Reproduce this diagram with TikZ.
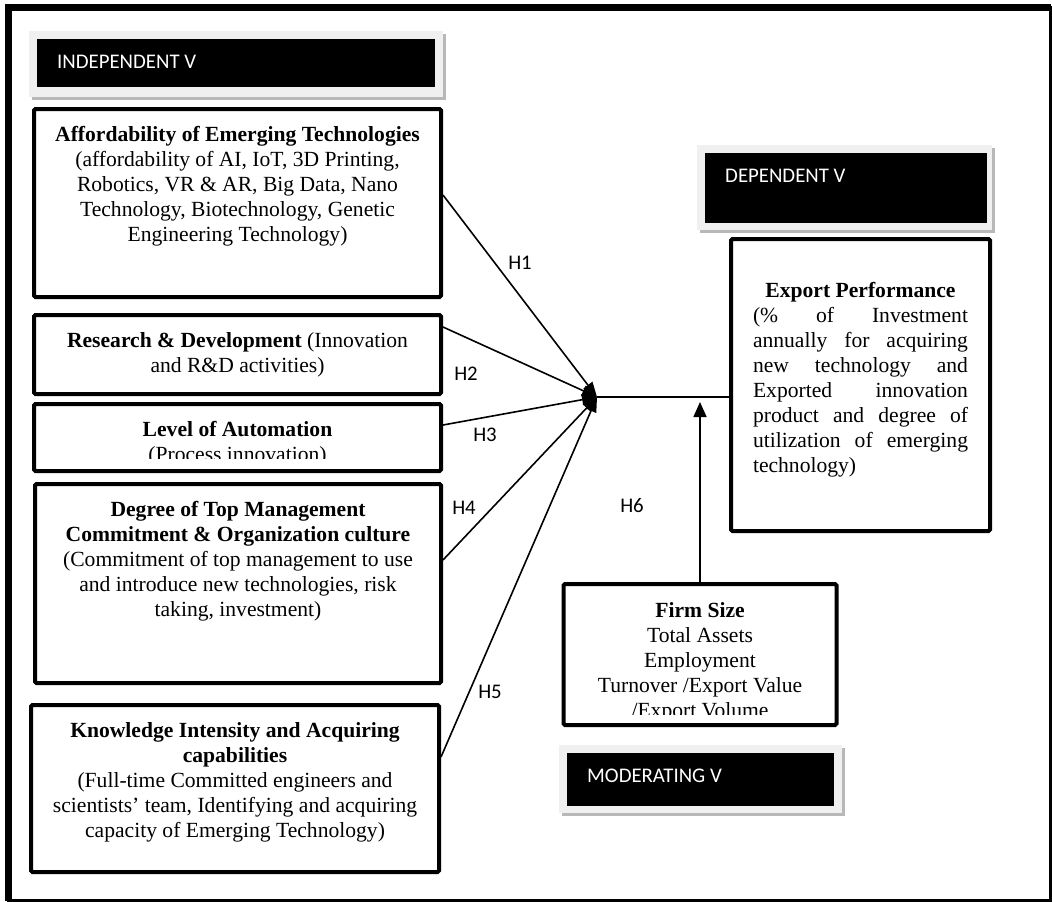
\documentclass[tikz,border=0pt]{standalone}
\usepackage{fontspec}
\setmainfont{Liberation Serif}
\newfontfamily\calibri{Carlito}
\usetikzlibrary{arrows.meta,positioning}

\begin{document}
\begin{tikzpicture}[x=1pt,y=-1pt,
  varbox/.style={draw,line width=4pt,rounded corners=1.5pt,inner sep=0pt},
  vartext/.style={align=center,inner sep=0pt,font=\fontsize{21.6}{25}\selectfont},
  tagtext/.style={anchor=west,inner sep=0pt,white,font=\calibri\fontsize{20.8}{24}\selectfont},
  hlabel/.style={inner sep=0pt,font=\calibri\fontsize{20.8}{24}\selectfont},
  link/.style={line width=1.6pt,-{Triangle[length=15pt,width=11pt]}}]
  \useasboundingbox (0,0) rectangle (1052,902);
  \fill[black!28] (32,34) rectangle (446,100);
  \fill[black!6] (29,31) rectangle (443,97);
  \fill (37,39) rectangle (435,87);
  \node[tagtext] (indep) at (57,62) {INDEPENDENT V};
  \fill[black!28] (700,148) rectangle (995,233);
  \fill[black!6] (697,145) rectangle (992,230);
  \fill (705,153) rectangle (987,223);
  \node[tagtext] (dep) at (725,176) {DEPENDENT V};
  \fill[black!28] (562,748) rectangle (845,816);
  \fill[black!6] (559,745) rectangle (842,813);
  \fill (567,753) rectangle (834,806);
  \node[tagtext] (moder) at (587,776) {MODERATING V};

  \node[varbox,minimum width=407pt,minimum height=188pt] (afford) at (237.5,203) {};
  \node[vartext,below=19pt of afford.north] (affordtext) {\textbf{Affordability of Emerging Technologies}\\
    (affordability of AI, IoT, 3D Printing,\\Robotics, VR \& AR, Big Data, Nano\\
    Technology, Biotechnology, Genetic\\Engineering Technology)};
  \node[varbox,minimum width=407pt,minimum height=79pt] (rnd) at (237.5,354.5) {};
  \node[vartext,below=19pt of rnd.north] (rndtext) {\textbf{Research \& Development} (Innovation\\
    and R\&D activities)};
  \node[varbox,minimum width=407pt,minimum height=67pt] (autom) at (237.5,437.5) {};
  \begin{scope}
    \clip (36,404) rectangle (439,458);
    \node[vartext,below=19pt of autom.north] (automtext) {\textbf{Level of Automation}\\(Process innovation)};
  \end{scope}
  \node[varbox,minimum width=406pt,minimum height=199pt] (topman) at (238,583.5) {};
  \node[vartext,below=19pt of topman.north] (topmantext) {\textbf{Degree of Top Management}\\
    \textbf{Commitment \& Organization culture}\\(Commitment of top management to use\\
    and introduce new technologies, risk\\taking, investment)};
  \node[varbox,minimum width=408pt,minimum height=167pt] (know) at (235,788.5) {};
  \node[vartext,below=19pt of know.north] (knowtext) {\textbf{Knowledge Intensity and Acquiring}\\
    \textbf{capabilities}\\(Full-time Committed engineers and\\
    scientists’ team, Identifying and acquiring\\capacity of Emerging Technology)};
  \node[varbox,minimum width=259pt,minimum height=292pt] (export) at (860.5,385) {};
  \node[vartext,below=45pt of export.north] (exporttitle) {\textbf{Export Performance}};
  \node[vartext,text width=215pt,align=justify,below=70pt of export.north] (exporttext)
    {(\% of Investment\linebreak annually for acquiring\linebreak new technology and\linebreak
    Exported innovation\linebreak product and degree of\linebreak utilization of emerging\linebreak
    technology)};
  \node[varbox,minimum width=273pt,minimum height=141pt] (firm) at (700,654.5) {};
  \begin{scope}
    \clip (565,586) rectangle (834,714);
    \node[vartext,below=20pt of firm.north] (firmtext) {\textbf{Firm Size}\\Total Assets\\Employment\\
      Turnover /Export Value\\/Export Volume};
  \end{scope}

  \coordinate (hub) at (597,397);
  \coordinate (modtip) at (701,402);
  \draw[link] ([yshift=8pt]afford.east) -- (hub);
  \draw[link] ([yshift=27.5pt]rnd.east) -- (hub);
  \draw[link] ([yshift=12.5pt]autom.east) -- (hub);
  \draw[link] ([yshift=23.5pt]topman.east) -- (hub);
  \draw[link] ([yshift=31.5pt]know.east) -- (hub);
  \draw[line width=1.6pt] (hub) -- (hub -| export.west);
  \draw[link,-{Triangle[length=15pt,width=13pt]}] (firm.north) -- (firm.north |- modtip);
  \node[hlabel] (h1) at (520,263) {H1};
  \node[hlabel] (h2) at (466,374) {H2};
  \node[hlabel] (h3) at (485,435) {H3};
  \node[hlabel] (h4) at (464,508) {H4};
  \node[hlabel] (h5) at (490,692) {H5};
  \node[hlabel] (h6) at (632,506) {H6};

  \draw[line width=3pt] (8.3,7.3) rectangle (1050.5,900.5);
  \draw[line width=6.5pt] (8.3,900.5) -- (8.3,7.3) -- (1050.5,7.3);
\end{tikzpicture}
\end{document}
